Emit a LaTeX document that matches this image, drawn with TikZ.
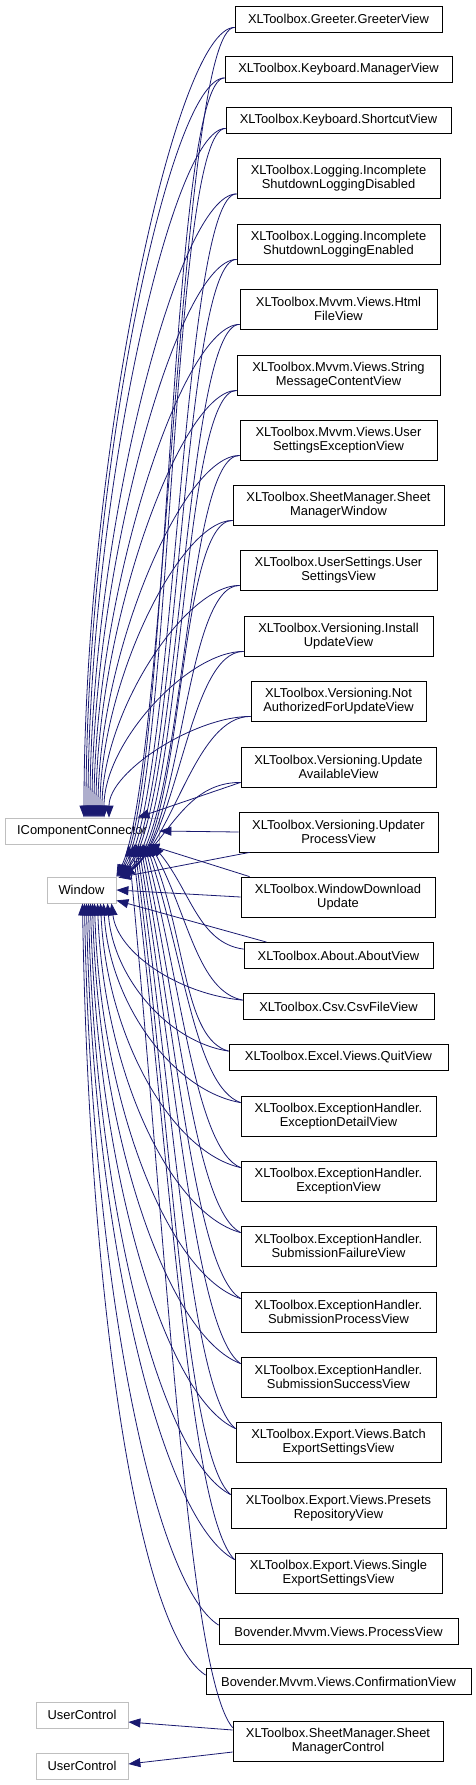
\documentclass[tikz,border=0pt]{standalone}
\usepackage{fontspec}
\setmainfont{Liberation Sans}
\usetikzlibrary{arrows.meta}
\definecolor{edgeblue}{HTML}{191970}
\definecolor{extgray}{HTML}{BFBFBF}
\begin{document}
\begin{tikzpicture}[x=1pt,y=-1pt,
  cls/.style={draw=black, fill=white, line width=0.8pt, inner sep=0pt, align=center,
    font=\fontsize{12.9}{14}\selectfont},
  ext/.style={cls, draw=extgray},
  one/.style={minimum height=26pt},
  two/.style={minimum height=40pt},
  inh/.style={draw=edgeblue, line width=0.8pt, -{Triangle[length=12pt,width=9pt]}}]
  \useasboundingbox (0,0) rectangle (476,1785);

  % base classes
  \node[ext, one, minimum width=154pt] (icc) at (82,831) {IComponentConnector};
  \node[ext, one, minimum width=69pt] (window) at (81.5,890) {Window};
  \node[ext, one, minimum width=92pt] (uc1) at (82,1715) {UserControl};
  \node[ext, one, minimum width=92pt] (uc2) at (82,1766) {UserControl};

  % derived classes
  \node[cls, one, minimum width=207pt] (greeter) at (338.5,19) {XLToolbox.Greeter.GreeterView};
  \node[cls, one, minimum width=227pt] (kbmanager) at (338.5,69.5) {XLToolbox.Keyboard.ManagerView};
  \node[cls, one, minimum width=225pt] (kbshortcut) at (338.5,120) {XLToolbox.Keyboard.ShortcutView};
  \node[cls, two, minimum width=203pt] (logdis) at (338.5,178.5) {XLToolbox.Logging.Incomplete\\ShutdownLoggingDisabled};
  \node[cls, two, minimum width=203pt] (logen) at (338.5,244) {XLToolbox.Logging.Incomplete\\ShutdownLoggingEnabled};
  \node[cls, two, minimum width=197pt] (htmlfile) at (338.5,309) {XLToolbox.Mvvm.Views.Html\\FileView};
  \node[cls, two, minimum width=203pt] (strmsg) at (338.5,375) {XLToolbox.Mvvm.Views.String\\MessageContentView};
  \node[cls, two, minimum width=197pt] (usrsetex) at (338.5,440) {XLToolbox.Mvvm.Views.User\\SettingsExceptionView};
  \node[cls, two, minimum width=211pt] (smwindow) at (338.5,505) {XLToolbox.SheetManager.Sheet\\ManagerWindow};
  \node[cls, two, minimum width=197pt] (usrset) at (338.5,570) {XLToolbox.UserSettings.User\\SettingsView};
  \node[cls, two, minimum width=189pt] (install) at (338.5,636) {XLToolbox.Versioning.Install\\UpdateView};
  \node[cls, two, minimum width=175pt] (notauth) at (338.5,701) {XLToolbox.Versioning.Not\\AuthorizedForUpdateView};
  \node[cls, two, minimum width=195pt] (updavail) at (338.5,767) {XLToolbox.Versioning.Update\\AvailableView};
  \node[cls, two, minimum width=199pt] (updproc) at (338.5,832) {XLToolbox.Versioning.Updater\\ProcessView};
  \node[cls, two, minimum width=194pt] (wdl) at (338,897) {XLToolbox.WindowDownload\\Update};
  \node[cls, one, minimum width=189pt] (about) at (338.5,955.5) {XLToolbox.About.AboutView};
  \node[cls, one, minimum width=191pt] (csv) at (338.5,1006.5) {XLToolbox.Csv.CsvFileView};
  \node[cls, one, minimum width=219pt] (quit) at (338.5,1057.5) {XLToolbox.Excel.Views.QuitView};
  \node[cls, two, minimum width=195pt] (excdetail) at (338.5,1116) {XLToolbox.ExceptionHandler.\\ExceptionDetailView};
  \node[cls, two, minimum width=195pt] (excview) at (338.5,1181) {XLToolbox.ExceptionHandler.\\ExceptionView};
  \node[cls, two, minimum width=195pt] (subfail) at (338.5,1246) {XLToolbox.ExceptionHandler.\\SubmissionFailureView};
  \node[cls, two, minimum width=195pt] (subproc) at (338.5,1312) {XLToolbox.ExceptionHandler.\\SubmissionProcessView};
  \node[cls, two, minimum width=195pt] (subsucc) at (338.5,1377) {XLToolbox.ExceptionHandler.\\SubmissionSuccessView};
  \node[cls, two, minimum width=205pt] (batch) at (338.5,1442) {XLToolbox.Export.Views.Batch\\ExportSettingsView};
  \node[cls, two, minimum width=215pt] (presets) at (338.5,1508) {XLToolbox.Export.Views.Presets\\RepositoryView};
  \node[cls, two, minimum width=207pt] (single) at (338.5,1573) {XLToolbox.Export.Views.Single\\ExportSettingsView};
  \node[cls, one, minimum width=239pt] (procview) at (338.5,1631.5) {Bovender.Mvvm.Views.ProcessView};
  \node[cls, one, minimum width=265pt] (confirm) at (338.5,1681.5) {Bovender.Mvvm.Views.ConfirmationView};
  \node[cls, two, minimum width=210pt] (smctrl) at (338,1741) {XLToolbox.SheetManager.Sheet\\ManagerControl};

  % upper views -> IComponentConnector
  \foreach \n/\ex/\ox/\oy in {greeter/2/60/356, kbmanager/4/56/333, kbshortcut/6/55/310,
      logdis/8/59/281, logen/10/58/252, htmlfile/12/58/222, strmsg/14/56/193,
      usrsetex/16/57/163, smwindow/18/53/134, usrset/20/55/105, install/22/56/75,
      notauth/27/56/46}
    \draw[inh] ([yshift=5pt]\n.south west) .. controls +(-\ox,0) and +(0,-\oy) .. ([xshift=\ex pt]icc.north);
  % upper views -> Window
  \foreach \n/\ex/\ox/\oy in {greeter/0/50/102, kbmanager/1/52/96, kbshortcut/2/54/90,
      logdis/3/56/82, logen/4/58/74, htmlfile/4/60/66, strmsg/5/62/58, usrsetex/5/64/51,
      smwindow/6/62/45, usrset/6/60/42, install/6/56/40, notauth/6/52/40, updavail/6/48/40}
    \draw[inh] ([yshift=5pt]\n.south west) .. controls +(-55,0) and +(\ox,-\oy) .. ([xshift=\ex pt]window.north east);

  \draw[inh] ([yshift=5pt]updavail.south west) -- ([xshift=-22pt]icc.north east);
  \draw[inh] (updproc.west) -- (icc.east);
  \draw[inh] ([xshift=11pt]updproc.south west) -- ([xshift=2pt,yshift=-1pt]window.north east);
  \draw[inh] (wdl.west) -- (window.east);
  \draw[inh] ([xshift=9pt]wdl.north west) -- ([xshift=-12pt]icc.south east);
  \draw[inh] ([xshift=23pt]about.north west) -- ([yshift=3pt]window.south east);

  % lower views -> Window
  \foreach \n/\ex/\ox/\oy/\ey in {csv/30/-65/-6/49, quit/26/-60/-9/75, excdetail/22/-68/-12/100,
      excview/19/-70/-16/132, subfail/16/-72/-20/165, subproc/13/-73/-24/198,
      subsucc/11/-74/-28/230, batch/9/-72/-32/263, presets/7/-71/-36/296,
      single/5/-74/-39/328, procview/3/-68/-43/358, confirm/1/-70/-46/382}
    \draw[inh] ([yshift=-7pt]\n.north west) .. controls +(\ox,\oy) and +(6,\ey) .. ([xshift=\ex pt]window.south);
  % lower views -> IComponentConnector
  \foreach \n/\ex/\oy/\ey in {about/-7/-6/46, csv/-9/-9/71, quit/-11/-12/94, excdetail/-13/-16/117,
      excview/-15/-19/146, subfail/-17/-23/175, subproc/-19/-27/205, subsucc/-21/-31/234,
      batch/-23/-35/263, presets/-25/-39/293, single/-27/-43/322, smctrl/-31/-53/399}
    \draw[inh] ([yshift=-7pt]\n.north west) .. controls +(-45,\oy) and +(38,\ey) .. ([xshift=\ex pt]icc.south east);

  \draw[inh] ([yshift=11pt]smctrl.west) -- ([yshift=-7pt]uc1.east);
  \draw[inh] ([yshift=-11pt]smctrl.west) -- ([yshift=2pt]uc2.east);
\end{tikzpicture}
\end{document}
